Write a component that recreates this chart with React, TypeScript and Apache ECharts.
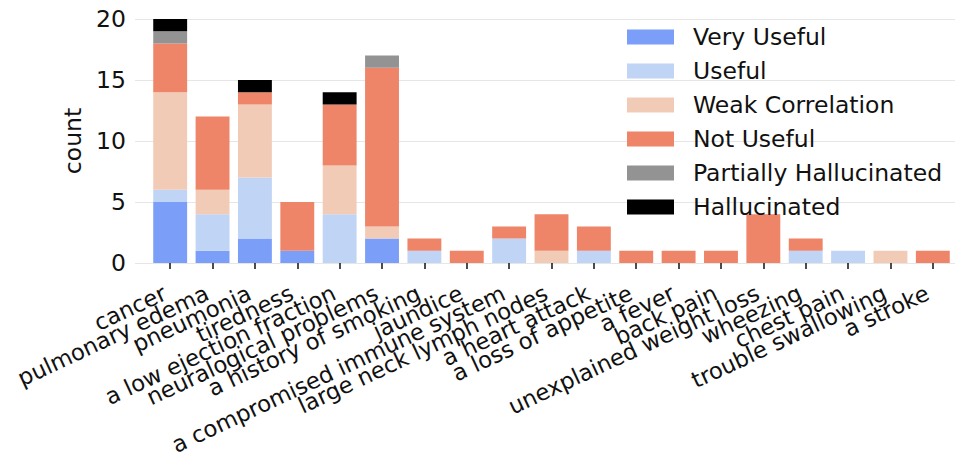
import React, { useEffect, useRef } from "react";
import * as echarts from "echarts";

const categories = [
  "cancer", "pulmonary edema", "pneumonia", "tiredness", "a low ejection fraction",
  "neuralogical problems", "a history of smoking", "jaundice", "a compromised immune system",
  "large neck lymph nodes", "a heart attack", "a loss of appetite", "a fever", "back pain",
  "unexplained weight loss", "wheezing", "chest pain", "trouble swallowing", "a stroke",
];
const veryUseful = [5, 1, 2, 1, 0, 2, 0, 0, 0, 0, 0, 0, 0, 0, 0, 0, 0, 0, 0];
const useful = [1, 3, 5, 0, 4, 0, 1, 0, 2, 0, 1, 0, 0, 0, 0, 1, 1, 0, 0];
const weakCorrelation = [8, 2, 6, 0, 4, 1, 0, 0, 0, 1, 0, 0, 0, 0, 0, 0, 0, 1, 0];
const notUseful = [4, 6, 1, 4, 5, 13, 1, 1, 1, 3, 2, 1, 1, 1, 4, 1, 0, 0, 1];
const partiallyHallucinated = [1, 0, 0, 0, 0, 1, 0, 0, 0, 0, 0, 0, 0, 0, 0, 0, 0, 0, 0];
const hallucinated = [1, 0, 1, 0, 1, 0, 0, 0, 0, 0, 0, 0, 0, 0, 0, 0, 0, 0, 0];
const yTicks = [0, 5, 10, 15, 20];

const seriesDefs = [
  { name: "Very Useful", data: veryUseful, color: "#7b9ff9" },
  { name: "Useful", data: useful, color: "#c0d4f5" },
  { name: "Weak Correlation", data: weakCorrelation, color: "#f2cbb7" },
  { name: "Not Useful", data: notUseful, color: "#ee8468" },
  { name: "Partially Hallucinated", data: partiallyHallucinated, color: "#939393" },
  { name: "Hallucinated", data: hallucinated, color: "#000000" },
];

export default function App() {
  const ref = useRef<HTMLDivElement>(null);
  useEffect(() => {
    if (!ref.current) return;
    const chart = echarts.init(ref.current, null, { renderer: "svg" });
    const font = "DejaVu Sans";
    const fs = 22.7;
    chart.setOption({
      animation: false,
      textStyle: { fontFamily: font },
      grid: [
        { left: 135, right: 0, top: 19, bottom: 197, containLabel: false, outerBoundsMode: "none" },
        { left: 149, right: 1, top: 19, bottom: 197, containLabel: false, outerBoundsMode: "none" },
      ],
      legend: {
        orient: "vertical",
        left: 627,
        top: 25,
        padding: 0,
        itemWidth: 47,
        itemHeight: 15,
        itemGap: 10,
        icon: "rect",
        textStyle: { fontSize: 23.5, lineHeight: 24, color: "#111", fontFamily: font, padding: [0, 0, 0, 14] },
        data: seriesDefs.map((s) => s.name),
      },
      xAxis: [
        { type: "value", gridIndex: 0, show: false, min: 0, max: 1 },
        {
          type: "category",
          gridIndex: 1,
          data: categories,
          axisLine: { show: false },
          axisTick: { show: true, alignWithLabel: true, length: 6, lineStyle: { color: "#111", width: 1.5 } },
          axisLabel: {
            interval: 0,
            rotate: 25,
            fontSize: fs,
            color: "#111",
            margin: 26,
            padding: [0, 6, 0, 0],
            fontFamily: font,
            hideOverlap: false,
          },
        },
      ],
      yAxis: [
        {
          type: "value",
          gridIndex: 0,
          min: 0,
          max: 20,
          interval: 5,
          axisLine: { show: false },
          axisTick: { show: false },
          axisLabel: { show: false },
          splitLine: { show: true, lineStyle: { color: "#e6e6e6", width: 1.2 } },
        },
        {
          type: "value",
          gridIndex: 1,
          min: 0,
          max: 20,
          interval: 5,
          name: "count",
          nameLocation: "middle",
          nameGap: 60,
          nameTextStyle: { fontSize: 23.5, color: "#111", fontFamily: font },
          axisLine: { show: false },
          axisTick: { show: false },
          axisLabel: {
            fontSize: 23.5,
            color: "#111",
            margin: 23,
            fontFamily: font,
            formatter: (v: number) => (yTicks.includes(v) ? String(v) : ""),
          },
          splitLine: { show: false },
        },
      ],
      series: seriesDefs.map((s) => ({
        name: s.name,
        type: "bar",
        stack: "total",
        xAxisIndex: 1,
        yAxisIndex: 1,
        barWidth: "80%",
        data: s.data,
        itemStyle: { color: s.color },
      })),
    });
    return () => chart.dispose();
  }, []);
  return (
    <div
      ref={ref}
      style={{ position: "fixed", left: 0, top: 0, width: 955, height: 460, background: "#fff" }}
    />
  );
}
